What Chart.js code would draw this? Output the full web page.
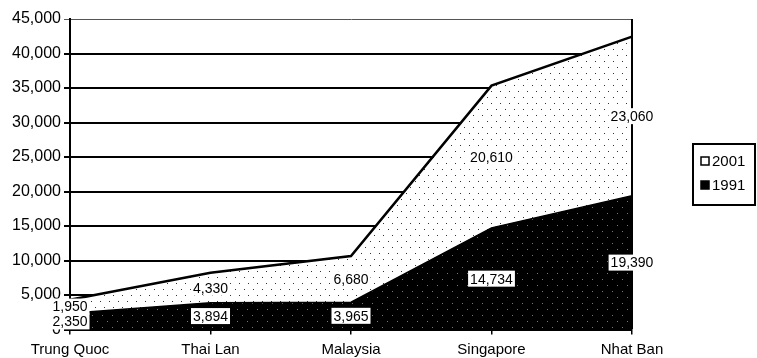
<!DOCTYPE html>
<html>
<head>
<meta charset="utf-8">
<script src="https://cdn.jsdelivr.net/npm/chart.js@4/dist/chart.umd.min.js"></script>
<style>
  html, body { margin: 0; padding: 0; background: #fff; }
  canvas { display: block; }
</style>
</head>
<body>
<canvas id="chart" width="757" height="358"></canvas>
<script>
// Categories and the two stacked series
const categories = ['Trung Quoc', 'Thai Lan', 'Malaysia', 'Singapore', 'Nhat Ban'];
const values1991 = [2350, 3894, 3965, 14734, 19390];
const values2001 = [1950, 4330, 6680, 20610, 23060];
const seriesNames = ['1991', '2001'];
const yMax = 45000;
const yStep = 5000;

const FONT = '"Liberation Sans", Arial, sans-serif';
const fmt = v => v.toLocaleString('en-US');

// Stippled fills
function makePattern(bg, dot, w, h, dots) {
  const c = document.createElement('canvas');
  c.width = w; c.height = h;
  const g = c.getContext('2d');
  g.fillStyle = bg; g.fillRect(0, 0, w, h);
  g.fillStyle = dot;
  dots.forEach(([x, y]) => g.fillRect(x, y, 1, 1));
  return g.createPattern(c, 'repeat');
}
const dotted = makePattern('#fff', '#333', 9, 12, [[1, 1], [5, 7]]);
const darkDotted = makePattern('#000', '#777', 10, 12, [[2, 3], [7, 9]]);

// Right-hand frame line of the plot area
const frame = {
  id: 'frame',
  afterDatasetsDraw(chart) {
    const { ctx, chartArea: a } = chart;
    ctx.save();
    ctx.strokeStyle = '#000';
    ctx.lineWidth = 2;
    ctx.beginPath();
    ctx.moveTo(a.right, a.top);
    ctx.lineTo(a.right, a.bottom);
    ctx.stroke();
    ctx.restore();
  }
};

// Value labels in the middle of each stacked band
const bandLabels = {
  id: 'bandLabels',
  afterDraw(chart) {
    const { ctx } = chart;
    const y = chart.scales.y;
    ctx.save();
    ctx.font = '14px ' + FONT;
    ctx.textAlign = 'center';
    ctx.textBaseline = 'middle';
    const base = new Array(categories.length).fill(0);
    chart.data.datasets.forEach((ds, i) => {
      const meta = chart.getDatasetMeta(i);
      ds.data.forEach((v, j) => {
        const px = meta.data[j].x;
        const py = y.getPixelForValue(base[j] + v / 2);
        const text = fmt(v);
        const w = ctx.measureText(text).width + 4;
        ctx.fillStyle = '#fff';
        ctx.fillRect(px - w / 2, py - 8, w, 16);
        ctx.fillStyle = '#000';
        ctx.fillText(text, px, py + 1);
        base[j] += v;
      });
    });
    ctx.restore();
  }
};

// Boxed legend to the right of the plot
const boxLegend = {
  id: 'boxLegend',
  afterDraw(chart) {
    const { ctx, chartArea: a } = chart;
    const left = a.right + 61, top = a.top + 125, w = 62, h = 61;
    ctx.save();
    ctx.fillStyle = '#fff';
    ctx.fillRect(left, top, w, h);
    ctx.strokeStyle = '#000';
    ctx.lineWidth = 2;
    ctx.strokeRect(left, top, w, h);
    ctx.font = '15px ' + FONT;
    ctx.textBaseline = 'middle';
    const items = chart.data.datasets.slice().reverse();
    items.forEach((ds, k) => {
      const cy = top + 17 + k * 24;
      ctx.fillStyle = ds.legendFill;
      ctx.fillRect(left + 8, cy - 4, 8, 8);
      ctx.strokeStyle = '#000';
      ctx.lineWidth = 1.5;
      ctx.strokeRect(left + 8, cy - 4, 8, 8);
      ctx.fillStyle = '#000';
      ctx.fillText(ds.label, left + 19, cy + 1);
    });
    ctx.restore();
  }
};

new Chart(document.getElementById('chart'), {
  type: 'line',
  data: {
    labels: categories,
    datasets: [
      {
        label: seriesNames[0],
        data: values1991,
        fill: 'origin',
        backgroundColor: darkDotted,
        borderColor: '#000',
        borderWidth: 1.5,
        legendFill: '#000',
        pointRadius: 0,
        tension: 0
      },
      {
        label: seriesNames[1],
        data: values2001,
        fill: '-1',
        backgroundColor: dotted,
        borderColor: '#000',
        borderWidth: 2.5,
        legendFill: '#fff',
        pointRadius: 0,
        tension: 0
      }
    ]
  },
  options: {
    responsive: false,
    animation: false,
    devicePixelRatio: 1,
    layout: { padding: { top: 19, right: 125, left: 0, bottom: 0 } },
    plugins: {
      legend: { display: false },
      tooltip: { enabled: false }
    },
    scales: {
      x: {
        offset: false,
        grid: { display: true, drawOnChartArea: false, drawTicks: true, tickLength: 5, color: '#000', lineWidth: 1.5 },
        border: { display: false },
        ticks: { color: '#000', font: { family: FONT, size: 15 }, padding: 6, maxRotation: 0, autoSkip: false },
        afterFit(s) { s.height = 28.5; }
      },
      y: {
        stacked: true,
        min: 0,
        max: yMax,
        ticks: {
          stepSize: yStep,
          color: '#000',
          font: { family: FONT, size: 16 },
          padding: 3,
          callback: v => fmt(v)
        },
        grid: {
          color: c => (c.tick && c.tick.value === yMax ? '#555' : '#000'),
          lineWidth: c => (c.tick && c.tick.value === yMax ? 1 : 2),
          tickLength: 6
        },
        border: { display: true, color: '#000', width: 2 },
        afterFit(s) { s.width = 70; }
      }
    }
  },
  plugins: [frame, bandLabels, boxLegend]
});
</script>
</body>
</html>
